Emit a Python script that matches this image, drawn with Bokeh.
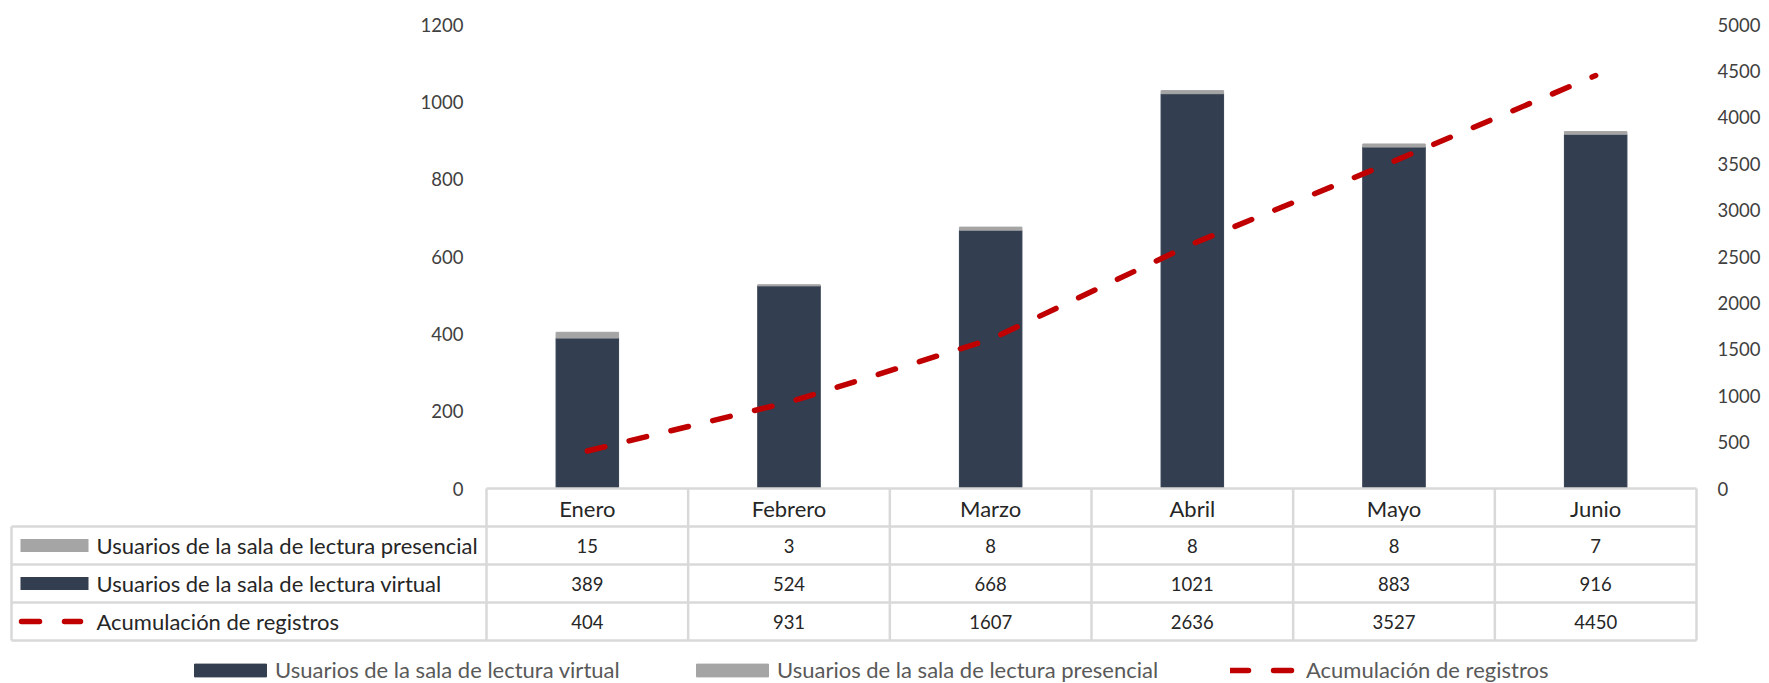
from bokeh.plotting import figure
from bokeh.models import Range1d, LinearAxis, FixedTicker, Legend, LegendItem, ColumnDataSource
from bokeh.core.properties import value
from bokeh.embed import file_html
from bokeh.resources import INLINE

# ---------------- data ----------------
months = ["Enero", "Febrero", "Marzo", "Abril", "Mayo", "Junio"]
presencial = [15, 3, 8, 8, 8, 7]
virtual = [389, 524, 668, 1021, 883, 916]
acumulado = [404, 931, 1607, 2636, 3527, 4450]
left_ticks = [0, 200, 400, 600, 800, 1000, 1200]
right_ticks = [0, 500, 1000, 1500, 2000, 2500, 3000, 3500, 4000, 4500, 5000]
name_pres = "Usuarios de la sala de lectura presencial"
name_virt = "Usuarios de la sala de lectura virtual"
name_acum = "Acumulación de registros"

# ---------------- layout (page px) ----------------
FONT = "Lato"
FS_TXT = "22px"
FS_NUM = "18.5px"
W, H = 1769, 683
PAGE = 0
COL_L, COL_R = 486, 1696
Y0, YTOP = 488, 24
ROW_H = 38
TAB_L = 11
n = len(months)
colw = (COL_R - COL_L) / n
LMAX, RMAX = left_ticks[-1], right_ticks[-1]
ppu_l = (Y0 - YTOP) / LMAX
ppu_r = (Y0 - YTOP) / RMAX


def xd(px):
    return -0.5 + (px - COL_L) / colw


def yd(py):
    return (Y0 - py) / ppu_l


p = figure(width=W, height=H,
           x_range=Range1d(xd(PAGE), xd(PAGE + W)),
           y_range=Range1d(yd(PAGE + H), yd(PAGE)),
           x_axis_type=None, y_axis_type=None,
           toolbar_location=None, output_backend="svg",
           min_border=0, outline_line_color=None)
p.extra_y_ranges = {"acum": Range1d((Y0 - (PAGE + H)) / ppu_r, (Y0 - PAGE) / ppu_r)}
p.background_fill_color = "white"
p.border_fill_color = "white"

src = ColumnDataSource(dict(x=list(range(n)), month=months, virtual=virtual,
                            presencial=presencial, acum=acumulado))

bars = p.vbar_stack(["virtual", "presencial"], x="x", width=0.31,
                    color=["#333F50", "#A5A5A5"], source=src)
line = p.line("x", "acum", source=src, y_range_name="acum", line_color="#C00000",
              line_width=5.5, line_dash="18 25", line_cap="round")

# ---------------- axes ----------------
axis_common = dict(axis_line_color=None, major_tick_line_color=None,
                   minor_tick_line_color=None, major_label_text_font=FONT,
                   major_label_text_font_size=FS_NUM, major_label_text_color="#404040")
ly = LinearAxis(ticker=FixedTicker(ticks=left_ticks), fixed_location=-0.5,
                major_label_standoff=17, **axis_common)
p.add_layout(ly, "left")
ry = LinearAxis(y_range_name="acum", ticker=FixedTicker(ticks=right_ticks),
                fixed_location=n - 0.5, major_label_standoff=15, **axis_common)
p.add_layout(ry, "right")
xa = LinearAxis(ticker=FixedTicker(ticks=list(range(n))),
                major_label_overrides={i: m for i, m in enumerate(months)},
                fixed_location=0, major_label_standoff=0, **axis_common)
xa.major_label_text_color = "#262626"
xa.major_label_text_font_size = FS_TXT
p.add_layout(xa, "below")

# ---------------- data table ----------------
GRID = "#D9D9D9"
hx0, hx1, hy = [], [], []
hx0.append(xd(COL_L)); hx1.append(xd(COL_R)); hy.append(yd(Y0))
for k in range(1, 5):
    hx0.append(xd(TAB_L)); hx1.append(xd(COL_R)); hy.append(yd(Y0 + k * ROW_H))
p.segment(x0=hx0, x1=hx1, y0=hy, y1=hy, line_color=GRID, line_width=2.5)
vx, vy0, vy1 = [xd(TAB_L)], [yd(Y0 + ROW_H)], [yd(Y0 + 4 * ROW_H)]
for k in range(n + 1):
    vx.append(xd(COL_L + k * colw)); vy0.append(yd(Y0)); vy1.append(yd(Y0 + 4 * ROW_H))
p.segment(x0=vx, x1=vx, y0=vy0, y1=vy1, line_color=GRID, line_width=2.5)

rows = [presencial, virtual, acumulado]
for r, vals in enumerate(rows):
    yc = yd(Y0 + ROW_H * (r + 1) + ROW_H / 2)
    p.text(x=list(range(n)), y=[yc] * n, text=[str(v) for v in vals],
           text_align="center", text_baseline="middle",
           text_font=value(FONT), text_font_size=FS_NUM, text_color="#262626")

labels = [name_pres, name_virt, name_acum]
for r, lab in enumerate(labels):
    yc_px = Y0 + ROW_H * (r + 1) + ROW_H / 2
    p.text(x=[xd(96)], y=[yd(yc_px)], text=[lab], text_align="left",
           text_baseline="middle", text_font=value(FONT), text_font_size=FS_TXT,
           text_color="#262626")
    if r < 2:
        p.quad(left=[xd(20)], right=[xd(88)], top=[yd(yc_px - 6.5)],
               bottom=[yd(yc_px + 6.5)], fill_color=["#A5A5A5", "#333F50"][r],
               line_color=None)
    else:
        p.line(x=[xd(21), xd(80)], y=[yd(yc_px)] * 2, line_color="#C00000",
               line_width=5.5, line_dash="18 25", line_cap="round")

# ---------------- bottom legend ----------------
for rend, lab, gx, gw, so in [(bars[0], name_virt, 185, 90, 0),
                              (bars[1], name_pres, 687, 90, 0),
                              (line, name_acum, 1230, 66, 10)]:
    leg = Legend(items=[LegendItem(label=lab, renderers=[rend])],
                 location=(gx - PAGE, 0), orientation="horizontal",
                 glyph_width=gw, glyph_height=16, label_standoff=so,
                 label_height=20, padding=0, margin=0, spacing=0,
                 border_line_color=None, background_fill_alpha=0,
                 label_text_font=FONT, label_text_font_size=FS_TXT,
                 label_text_color="#595959")
    p.add_layout(leg, "center")

open("out.html", "w").write(file_html(p, INLINE))
